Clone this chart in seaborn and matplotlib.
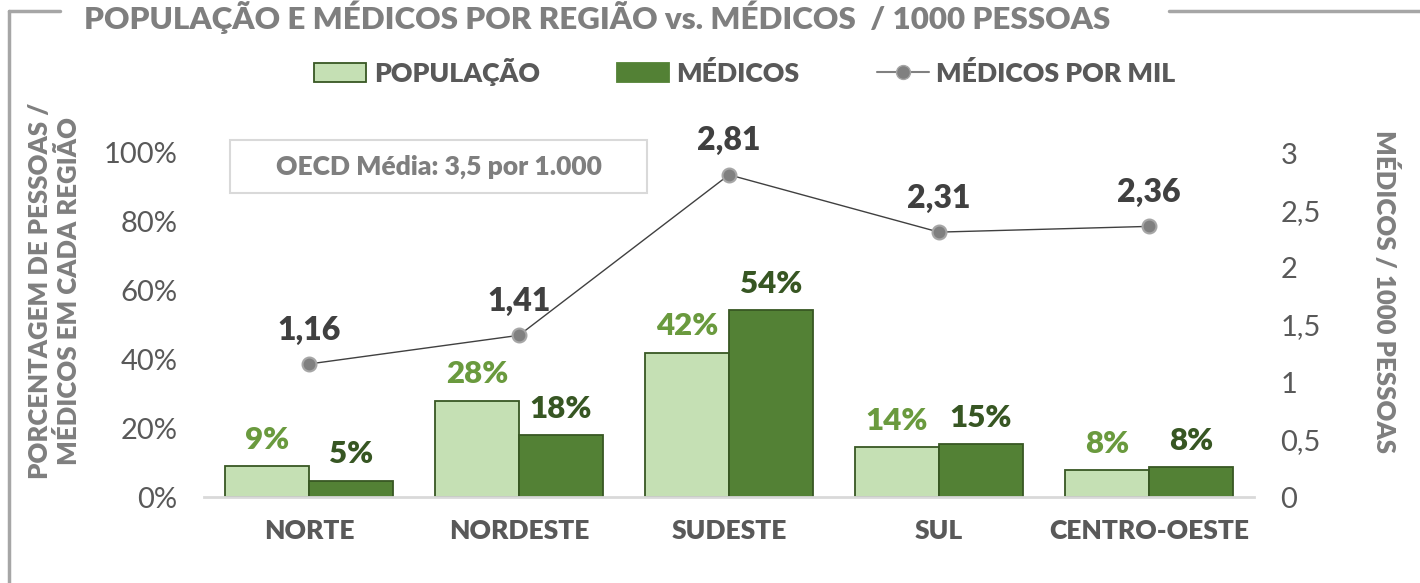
import matplotlib
matplotlib.use("Agg")
import matplotlib.pyplot as plt
import seaborn as sns
import pandas as pd
from matplotlib.patches import Patch, Rectangle
from matplotlib.lines import Line2D

regioes = ["NORTE", "NORDESTE", "SUDESTE", "SUL", "CENTRO-OESTE"]
populacao = [0.09, 0.28, 0.42, 0.145, 0.078]
medicos = [0.047, 0.18, 0.543, 0.154, 0.087]
pop_labels = ["9%", "28%", "42%", "14%", "8%"]
med_labels = ["5%", "18%", "54%", "15%", "8%"]
por_mil = [1.16, 1.41, 2.81, 2.31, 2.36]
por_mil_labels = ["1,16", "1,41", "2,81", "2,31", "2,36"]
left_ticks = [0, 0.2, 0.4, 0.6, 0.8, 1.0]
left_tick_labels = ["0%", "20%", "40%", "60%", "80%", "100%"]
right_ticks = [0, 0.5, 1, 1.5, 2, 2.5, 3]
right_tick_labels = ["0", "0,5", "1", "1,5", "2", "2,5", "3"]

sns.set_style("white")
plt.rcParams["font.family"] = ["Lato", "DejaVu Sans"]

W = "heavy"
C_LIGHT = "#C5E0B4"
C_DARK = "#538135"
C_EDGE = "#385723"
C_POP_TXT = "#6A9A3E"
C_MED_TXT = "#375623"
C_GRAY = "#7F7F7F"
C_TICK = "#595959"

fig = plt.figure(figsize=(14.2, 5.83), dpi=100)
ax = fig.add_axes([204/1420, 1-497/583, 1050/1420, 377/583])

df = pd.DataFrame({
    "regiao": regioes * 2,
    "valor": populacao + medicos,
    "serie": ["POPULAÇÃO"] * 5 + ["MÉDICOS"] * 5,
})
sns.barplot(data=df, x="regiao", y="valor", hue="serie", order=regioes,
            hue_order=["POPULAÇÃO", "MÉDICOS"],
            palette=[C_LIGHT, C_DARK], width=0.8, edgecolor=C_EDGE,
            linewidth=1.3, ax=ax, legend=False, saturation=1)

top_left = 377/344
ax.set_xlim(-0.5, 4.5)
ax.set_ylim(0, top_left)
ax.set_yticks(left_ticks)
ax.set_yticklabels(left_tick_labels)
ax.set_xlabel("")
ax.set_ylabel("")
ax.tick_params(axis="y", length=0, pad=19, labelsize=21, labelcolor=C_TICK)
ax.tick_params(axis="x", length=0, pad=16, labelsize=19, labelcolor=C_TICK)
for lab in ax.get_xticklabels():
    lab.set_fontweight(W)
for s in ["top", "right", "left"]:
    ax.spines[s].set_visible(False)
ax.spines["bottom"].set_color("#D9D9D9")
ax.spines["bottom"].set_linewidth(2)

for i in range(5):
    ax.annotate(pop_labels[i], (i - 0.2, populacao[i]), xytext=(0, 9),
                textcoords="offset points", ha="center", va="bottom",
                fontsize=22.5, fontweight=W, color=C_POP_TXT)
    ax.annotate(med_labels[i], (i + 0.2, medicos[i]), xytext=(0, 9),
                textcoords="offset points", ha="center", va="bottom",
                fontsize=22.5, fontweight=W, color=C_MED_TXT)

ax2 = ax.twinx()
sns.pointplot(x=regioes, y=por_mil, ax=ax2, color="#404040", linewidth=1,
              markers="", errorbar=None)
ax2.plot(range(5), por_mil, linestyle="none", marker="o", markersize=10,
         markerfacecolor="#808080", markeredgecolor="#A6A6A6",
         markeredgewidth=1.5, zorder=5, clip_on=False)
ax2.set_xlim(-0.5, 4.5)
ax2.set_ylim(0, top_left * 3)
ax2.set_yticks(right_ticks)
ax2.set_yticklabels(right_tick_labels)
ax2.set_ylabel("")
ax2.tick_params(axis="y", length=0, pad=19, labelsize=21, labelcolor=C_TICK)
for s in ["top", "right", "left", "bottom"]:
    ax2.spines[s].set_visible(False)
for i in range(5):
    ax2.annotate(por_mil_labels[i], (i, por_mil[i]), xytext=(0, 14),
                 textcoords="offset points", ha="center", va="bottom",
                 fontsize=23, fontweight=W, color="#404040")

# axis titles
fig.text(40/1420, 1-291/583, "PORCENTAGEM DE PESSOAS /", rotation=90,
         ha="center", va="center", fontsize=18.5, fontweight=W, color=C_GRAY)
fig.text(69/1420, 1-291/583, "MÉDICOS EM CADA REGIÃO", rotation=90,
         ha="center", va="center", fontsize=18.5, fontweight=W, color=C_GRAY)
fig.text(1385/1420, 1-292/583, "MÉDICOS / 1000 PESSOAS", rotation=-90,
         ha="center", va="center", fontsize=18.5, fontweight=W, color=C_GRAY)

# title and frame
fig.text(597/1420, 1-17/583, "POPULAÇÃO E MÉDICOS POR REGIÃO vs. MÉDICOS  / 1000 PESSOAS",
         ha="center", va="center", fontsize=22.6, fontweight=W, color=C_GRAY)
frame_kw = dict(color="#A6A6A6", linewidth=2.5, transform=fig.transFigure, clip_on=False)
fig.add_artist(Line2D([9/1420, 60/1420], [1-11/583, 1-11/583], **frame_kw))
fig.add_artist(Line2D([1169/1420, 1.0], [1-11/583, 1-11/583], **frame_kw))
fig.add_artist(Line2D([9/1420, 9/1420], [1-11/583, 0], **frame_kw))

# OECD box
fig.add_artist(Rectangle((230/1420, 1-193/583), 417/1420, 53/583,
                         transform=fig.transFigure, facecolor="white",
                         edgecolor="#D9D9D9", linewidth=1.5))
fig.text(439/1420, 1-167/583, "OECD Média: 3,5 por 1.000", ha="center",
         va="center", fontsize=19, fontweight=W, color=C_GRAY)

# legend
handles = [
    Patch(facecolor=C_LIGHT, edgecolor=C_EDGE, linewidth=1.3),
    Patch(facecolor=C_DARK, edgecolor=C_DARK, linewidth=1.3),
    Line2D([0], [0], color="#808080", linewidth=1.5, marker="o", markersize=10,
           markerfacecolor="#808080", markeredgecolor="#A6A6A6"),
]
leg = fig.legend(handles, ["POPULAÇÃO", "MÉDICOS", "MÉDICOS POR MIL"],
                 loc="center", bbox_to_anchor=(745/1420, 1-72/583), ncol=3,
                 frameon=False, handlelength=1.95, handleheight=0.75,
                 handletextpad=0.28, columnspacing=2.9,
                 prop={"family": ["Lato", "DejaVu Sans"], "weight": W, "size": 19.2})
for t in leg.get_texts():
    t.set_color(C_TICK)

fig.savefig("out.png", dpi=100)
